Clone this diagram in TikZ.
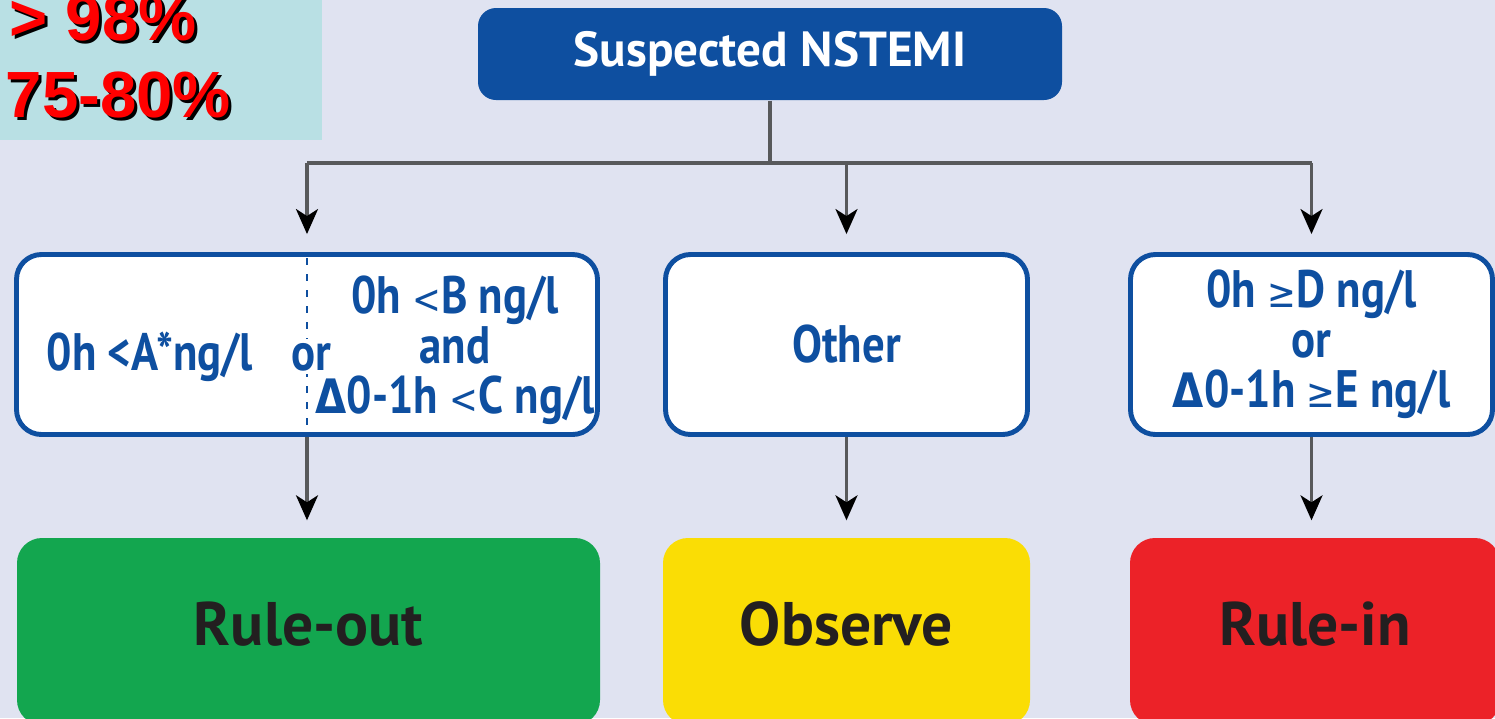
\documentclass[tikz,border=0pt]{standalone}
\usepackage{fontspec}
\setmainfont{PT Sans}
\newfontfamily\condfont{PT Sans}[FakeStretch=0.85]
\newfontfamily\pctfont{Liberation Sans}
\newfontfamily\symfont{DejaVu Sans}[FakeStretch=0.85]
\usetikzlibrary{arrows.meta,positioning}

\definecolor{bgcol}{HTML}{E0E3F1}
\definecolor{tealcol}{HTML}{B9E0E4}
\definecolor{nstblue}{HTML}{0E4FA0}
\definecolor{linegray}{HTML}{58595B}
\definecolor{textdark}{HTML}{231F20}
\definecolor{outgreen}{HTML}{13A64F}
\definecolor{obsyellow}{HTML}{FADD05}
\definecolor{inred}{HTML}{EC2228}
\definecolor{pctred}{HTML}{FF0000}

\newcommand{\thinrel}[1]{{\symfont\mdseries\fontsize{11.5}{14}\selectfont #1}}
\newcommand{\deltasym}{{\symfont\bfseries\fontsize{13.5}{14}\selectfont Δ}}

\tikzset{
  startbox/.style={fill=nstblue, rounded corners=0.18cm, minimum width=5.84cm,
    minimum height=0.92cm, text=white, font=\bfseries\fontsize{14}{16}\selectfont},
  condbox/.style={draw=nstblue, line width=1.4pt, fill=white, rounded corners=0.25cm,
    minimum height=1.80cm, inner sep=0pt, text=nstblue, align=center,
    font=\condfont\bfseries\fontsize{15}{14.2}\selectfont},
  condtext/.style={text=nstblue, align=center, inner sep=1pt,
    font=\condfont\bfseries\fontsize{15}{14.2}\selectfont},
  resultbox/.style={rounded corners=0.25cm, minimum height=1.87cm, text depth=0.16cm,
    text=textdark, font=\bfseries\fontsize{17.5}{20}\selectfont},
  pct/.style={inner sep=0pt, anchor=base west, font=\pctfont\bfseries\fontsize{18.6}{20}\selectfont},
  trunk/.style={draw=linegray, line width=0.9pt},
  flow/.style={trunk, -{Stealth[length=0.25cm,width=0.22cm,inset=0.07cm,black]}}
}

\begin{document}
\begin{tikzpicture}
\useasboundingbox (0,0) rectangle (14.95,-7.18);
\clip (0,0) rectangle (14.95,-7.18);
\fill[bgcol] (0,0) rectangle (14.95,-7.18);
\fill[tealcol] (0,0) rectangle (3.22,-1.40);

% Percentages
\node[pct, text=black] (highshadow) at (0.12,-0.43) {> 98\%};
\node[pct, text=pctred] (high) at (0.09,-0.40) {> 98\%};
\node[pct, text=black] (lowshadow) at (0.08,-1.20) {75-80\%};
\node[pct, text=pctred] (low) at (0.05,-1.17) {75-80\%};

% Start
\node[startbox] (suspect) at (7.70,-0.54) {Suspected NSTEMI};

% Conditions
\node[condbox, minimum width=5.81cm] (ruleoutcond) at (3.07,-3.445) {};
\node[condbox, minimum width=3.62cm] (othercond) at (8.465,-3.445) {Other};
\node[condbox, minimum width=3.62cm] (ruleincond) at (13.115,-3.445)
  {0h \thinrel{≥}D ng/l\\or\\\deltasym0-1h \thinrel{≥}E ng/l};
\draw[nstblue, line width=0.8pt, dash pattern=on 0.07cm off 0.09cm]
  ([yshift=-0.06cm]ruleoutcond.north) -- ([yshift=0.06cm]ruleoutcond.south);
\node[condtext, anchor=base] (condA) at (1.50,-3.70) {0h <A*ng/l};
\node[condtext, anchor=base, fill=white] (condor) at (3.11,-3.70) {or};
\node[condtext] (condBC) at (4.55,-3.50)
  {0h \thinrel{<}B ng/l\\and\\\deltasym0-1h \thinrel{<}C ng/l};

% Results
\node[resultbox, fill=outgreen, minimum width=5.83cm] (ruleout) at (3.085,-6.315) {Rule-out};
\node[resultbox, fill=obsyellow, minimum width=3.67cm] (observe) at (8.465,-6.315) {Observe};
\node[resultbox, fill=inred, minimum width=3.70cm] (rulein) at (13.15,-6.315) {Rule-in};

% Connectors
\coordinate (branch) at (7.70,-1.63);
\draw[trunk] (suspect) -- (branch);
\draw[trunk] (ruleoutcond.north |- branch) -- (ruleincond.north |- branch);
\foreach \n in {ruleoutcond,othercond,ruleincond}
  \draw[flow, shorten >=0.18cm] (\n.north |- branch) -- (\n.north);
\foreach \c/\r in {ruleoutcond/ruleout,othercond/observe,ruleincond/rulein}
  \draw[flow, shorten >=0.17cm] (\c.south) -- (\c.south |- \r.north);
\end{tikzpicture}
\end{document}
